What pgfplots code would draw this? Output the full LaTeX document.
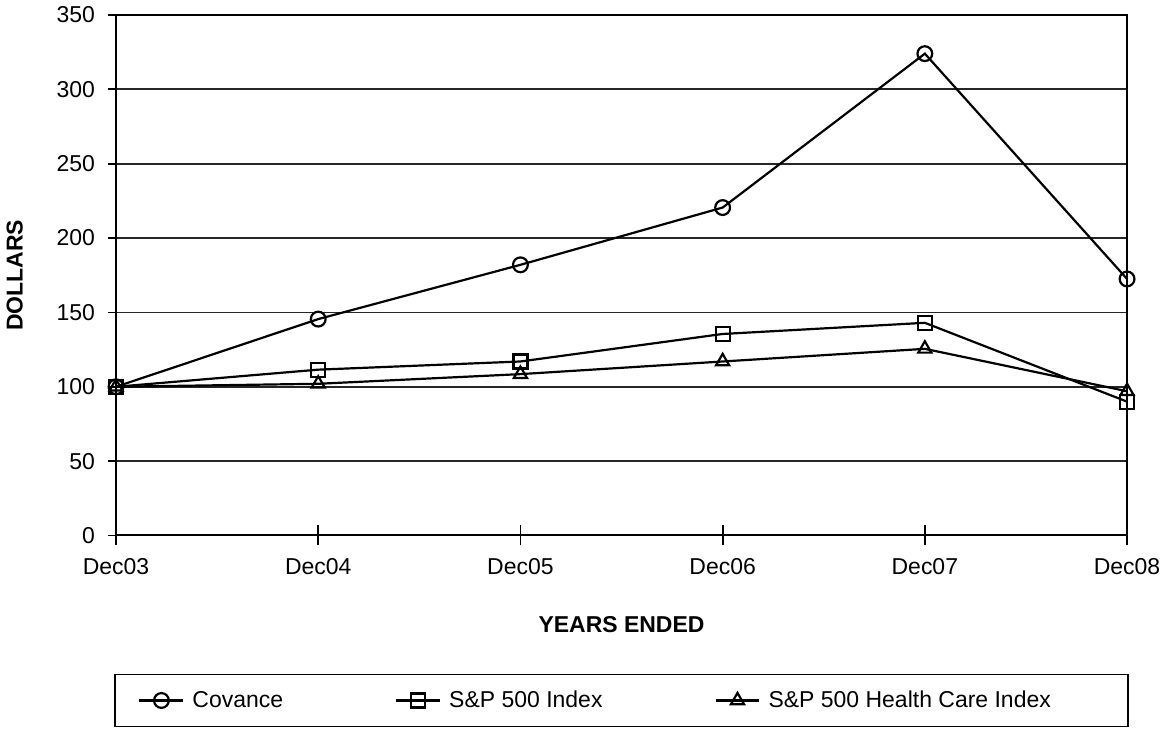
\documentclass[border=0pt]{standalone}
\usepackage{pgfplots}
\pgfplotsset{compat=1.18}
\usepackage{fontspec}
\setmainfont{Liberation Sans}
\begin{document}
\begin{tikzpicture}
\begin{axis}[
  scale only axis, width=506pt, height=260.5pt,
  xmin=0, xmax=5, ymin=0, ymax=350,
  clip=false,
  axis line style={line width=1pt},
  xtick={0,1,2,3,4,5},
  xticklabels={Dec03,Dec04,Dec05,Dec06,Dec07,Dec08},
  ytick={0,50,...,350},
  ymajorgrids, grid style={line width=0.9pt, black!85},
  tick style={line width=0.9pt, black},
  major tick length=10pt,
  xtick align=center,
  y tick style={xscale=0.4}, ytick align=outside,
  xtick pos=bottom, ytick pos=left,
  /pgf/number format/assume math mode=true,
  ticklabel style={font=\fontsize{11.5}{13}\selectfont},
  xticklabel style={yshift=-3pt},
  yticklabel style={xshift=3pt},
  xlabel={\bfseries YEARS ENDED},
  ylabel={\bfseries DOLLARS},
  label style={font=\fontsize{11.5}{13}\selectfont},
  xlabel style={yshift=-14pt},
  ylabel style={yshift=10pt},
  every axis plot/.append style={line width=1.1pt, black, mark options={fill=white, solid}},
  legend columns=3,
  legend style={draw=none, fill=none, inner xsep=0pt,
    at={(axis description cs:0.0217,-0.317)}, anchor=west,
    font=\fontsize{11.5}{13}\selectfont,
    /tikz/every odd column/.append style={column sep=2pt},
    /tikz/every even column/.append style={column sep=54pt}},
  legend image code/.code={\draw[mark repeat=2,mark phase=2,#1] plot coordinates {(0pt,0pt)(11pt,0pt)(22pt,0pt)};},
]
\addplot[mark=o, mark size=3.7pt] coordinates {(0,100) (1,145.5) (2,182) (3,220.5) (4,324) (5,172.5)};
\addlegendentry{Covance}
\addplot[mark=square, mark size=3.5pt] coordinates {(0,100) (1,111.5) (2,117) (3,135.5) (4,143) (5,90)};
\addlegendentry{S\&P 500 Index}
\addplot[mark=triangle, mark size=3.8pt] coordinates {(0,100) (1,102) (2,108.5) (3,117) (4,125.5) (5,97)};
\addlegendentry{S\&P 500 Health Care Index}
\draw[line width=0.9pt] (axis description cs:-0.001,-0.267) rectangle (axis description cs:1.001,-0.367);
\path (axis description cs:-0.11364,1.02879) (axis description cs:1.04051,-0.37044);
\end{axis}
\end{tikzpicture}
\end{document}
